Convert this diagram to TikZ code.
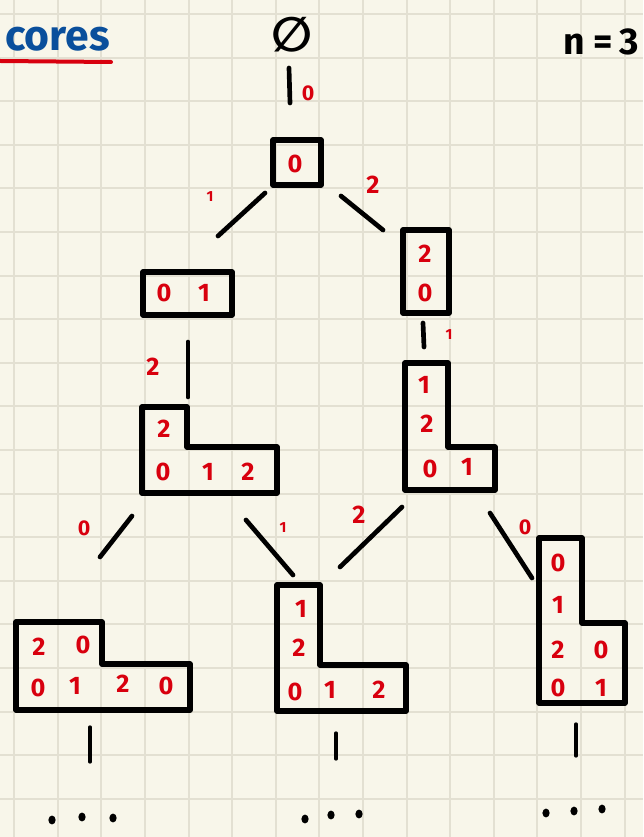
\documentclass[tikz,border=0pt]{standalone}
\usepackage{fontspec}
\setmainfont{Fira Sans}
\newfontfamily\symfam{DejaVu Sans}
\definecolor{paper}{HTML}{F8F6EA}
\definecolor{gridc}{HTML}{E3E0D2}
\definecolor{numred}{HTML}{D8000E}
\definecolor{inkblue}{HTML}{0A4F9C}
\begin{document}
\begin{tikzpicture}[x=0.75pt,y=-0.75pt,
  yd/.style={draw=black, line width=4pt, line join=round, line cap=round},
  edgeline/.style={draw=black, line width=3.5pt, line cap=round},
  lab/.style={text=numred, font=\fontsize{19}{19}\selectfont\bfseries, inner sep=0pt},
  elab/.style={text=numred, font=\fontsize{16}{16}\selectfont\bfseries, inner sep=0pt},
  blab/.style={text=numred, font=\fontsize{19}{19}\selectfont\bfseries, inner sep=0pt},
  slab/.style={text=numred, font=\fontsize{11}{11}\selectfont\bfseries, inner sep=0pt},
  dotmark/.style={fill=black}]
\useasboundingbox (0,0) rectangle (643,837);
\fill[paper] (0,0) rectangle (643,837);
\foreach \i in {0,...,14} \draw[gridc, line width=1.4pt] ({14.2+43.6*\i},0) -- ++(0,837);
\foreach \j in {0,...,19} \draw[gridc, line width=1.4pt] (0,{14+43.6*\j}) -- ++(643,0);

% header
\node[text=inkblue, font=\fontsize{32}{32}\selectfont\bfseries, anchor=west, inner sep=0pt] (title) at (5,39) {cores};
\coordinate (ulA) at (0,61);
\coordinate (ulB) at (111,62);
\draw[numred, line width=3pt, line cap=round] (ulA) -- (ulB);
\node[font=\symfam\fontsize{36}{36}\selectfont\bfseries, inner sep=0pt] (empty) at (292,35) {∅};
\node[font=\fontsize{28}{28}\selectfont\bfseries, anchor=east, inner sep=0pt] (nval) at (639,42) {n\hspace{6pt}=\hspace{5pt}3};

% Young diagrams (cores)
\draw[yd] (273,140) rectangle (321,185);
\node[lab] (a0) at (295,164) {0};

\draw[yd] (143,272) rectangle (232,315);
\node[lab] (b0) at (164,293) {0};
\node[lab] (b1) at (204,293) {1};

\draw[yd] (403,230) rectangle (449,313);
\node[lab] (c2) at (425,254) {2};
\node[lab] (c0) at (425,293) {0};

\draw[yd] (142,407) -- (187,407) -- (187,447) -- (277,447) -- (277,493) -- (142,493) -- cycle;
\node[lab] (d2) at (164,429) {2};
\node[lab] (d0) at (163,472) {0};
\node[lab] (d1) at (208,472) {1};
\node[lab] (d2b) at (248,472) {2};

\draw[yd] (405,363) -- (448,363) -- (448,447) -- (495,447) -- (495,490) -- (405,490) -- cycle;
\node[lab] (f1) at (424,385) {1};
\node[lab] (f2) at (427,424) {2};
\node[lab] (f0) at (430,469) {0};
\node[lab] (f1b) at (467,467) {1};

\draw[yd] (16,622) -- (102,622) -- (102,664) -- (190,664) -- (190,710) -- (16,710) -- cycle;
\node[lab] (g2) at (39,647) {2};
\node[lab] (g0) at (83,645) {0};
\node[lab] (g0b) at (38,688) {0};
\node[lab] (g1) at (75,686) {1};
\node[lab] (g2b) at (123,684) {2};
\node[lab] (g0c) at (166,686) {0};

\draw[yd] (277,585) -- (320,585) -- (320,665) -- (406,665) -- (406,711) -- (277,711) -- cycle;
\node[lab] (h1) at (301,609) {1};
\node[lab] (h2) at (299,648) {2};
\node[lab] (h0) at (295,692) {0};
\node[lab] (h1b) at (330,690) {1};
\node[lab] (h2b) at (379,690) {2};

\draw[yd] (539,538) -- (582,538) -- (582,623) -- (625,623) -- (625,703) -- (539,703) -- cycle;
\node[lab] (k0) at (558,563) {0};
\node[lab] (k1) at (558,605) {1};
\node[lab] (k2) at (558,650) {2};
\node[lab] (k0b) at (601,650) {0};
\node[lab] (k0c) at (558,688) {0};
\node[lab] (k1b) at (601,688) {1};

% edges
\coordinate (e0a) at (289,68);   \coordinate (e0b) at (290,103);
\coordinate (e1a) at (265,193);  \coordinate (e1b) at (218,236);
\coordinate (e2a) at (341,196);  \coordinate (e2b) at (383,230);
\coordinate (e3a) at (188,342);  \coordinate (e3b) at (188,397);
\coordinate (e4a) at (423,323);  \coordinate (e4b) at (424,347);
\coordinate (e5a) at (132,516);  \coordinate (e5b) at (100,557);
\coordinate (e6a) at (246,520);  \coordinate (e6b) at (293,575);
\coordinate (e7a) at (402,507);  \coordinate (e7b) at (340,567);
\coordinate (e8a) at (490,513);  \coordinate (e8b) at (532,578);
\coordinate (t1a) at (90,727);   \coordinate (t1b) at (90,762);
\coordinate (t2a) at (336,733);  \coordinate (t2b) at (336,759);
\coordinate (t3a) at (576,724);  \coordinate (t3b) at (576,756);
\foreach \p/\q in {e0a/e0b,e1a/e1b,e2a/e2b,e3a/e3b,e4a/e4b,e5a/e5b,e6a/e6b,e7a/e7b,e8a/e8b}
  \draw[edgeline] (\p) -- (\q);
\foreach \p/\q in {t1a/t1b,t2a/t2b,t3a/t3b}
  \draw[edgeline, line width=2.5pt] (\p) -- (\q);

\node[elab] (l0) at (308,93) {0};
\node[slab] (l1) at (210,197) {1};
\node[blab] (l2) at (373,185) {2};
\node[blab] (l3) at (153,367) {2};
\node[slab] (l4) at (449,335) {1};
\node[elab] (l5) at (84,528) {0};
\node[slab] (l6) at (283,528) {1};
\node[blab] (l7) at (359,515) {2};
\node[elab] (l8) at (525,527) {0};

% continuation dots
\foreach \x/\y in {52/820,82/817,113/818,305/819,331/815,359/814,546/813,574/811,602/809}
  \fill[dotmark] (\x,\y) ellipse (3.6 and 4.4);
\end{tikzpicture}
\end{document}
